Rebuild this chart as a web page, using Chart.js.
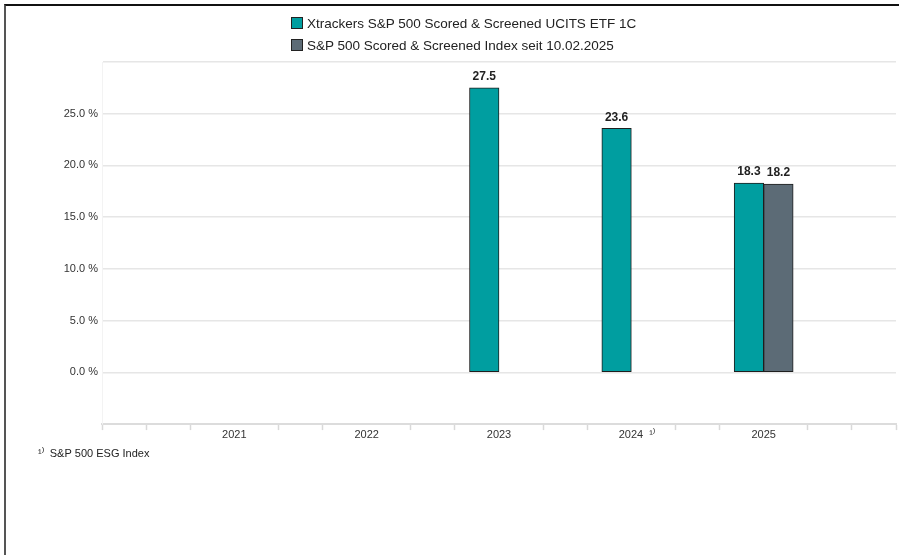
<!DOCTYPE html>
<html><head><meta charset="utf-8">
<script src="https://cdn.jsdelivr.net/npm/chart.js@4.4.1/dist/chart.umd.min.js"></script>
<style>
html,body{margin:0;padding:0;background:#fff;}
#wrap{position:relative;width:899px;height:555px;overflow:hidden;font-family:"Liberation Sans",Arial,sans-serif;}
#c{position:absolute;left:0;top:0;}
#frame{position:absolute;left:4px;top:4px;right:-10px;bottom:-10px;border-top:2px solid #111;border-left:2px solid #555;pointer-events:none;}
#legend{position:absolute;left:291px;top:12px;font-size:13.5px;color:#222;}
.li{display:flex;align-items:center;height:22px;white-space:nowrap;}
.sw{width:10px;height:10px;border:1px solid #222;margin-right:4px;box-sizing:content-box;}
</style></head>
<body><div id="wrap"><canvas id="c" width="899" height="555"></canvas><div id="legend"></div><div id="frame"></div></div>
<script>
// ---- data ----
const years = ['2021', '2022', '2023', '2024', '2025'];
const fundReturns = [null, null, 27.5, 23.6, 18.3];
const indexReturns = [null, null, null, null, 18.2];
const yearFootnotes = ['', '', '', '¹⁾', ''];
const fundLabel = 'Xtrackers S&P 500 Scored & Screened UCITS ETF 1C';
const indexLabel = 'S&P 500 Scored & Screened Index seit 10.02.2025';
const footnoteText = '¹⁾  S&P 500 ESG Index';
const yTickValues = [0, 5, 10, 15, 20, 25];
const yMin = -5, yMax = 30, yStep = 5;

// ---- build slots: axis divided into thirds of a year, years on every third slot ----
const SUB = 3;
const nSlots = (years.length + 1) * SUB + 1;
const slotLabels = new Array(nSlots).fill('');
const fundSlots = new Array(nSlots).fill(null);
const indexSlots = new Array(nSlots).fill(null);
years.forEach((y, i) => {
  const s = (i + 1) * SUB;
  slotLabels[s] = yearFootnotes[i] ? '\u2002\u2002' + y + '  ' + yearFootnotes[i] : y;
  fundSlots[s] = fundReturns[i];
  indexSlots[s] = indexReturns[i];
});

const FONT = '"Liberation Sans", Arial, sans-serif';
Chart.defaults.font.family = FONT;

const valueLabels = {
  id: 'valueLabels',
  afterDatasetsDraw(chart) {
    const ctx = chart.ctx;
    ctx.save();
    ctx.font = 'bold 12px ' + FONT;
    ctx.fillStyle = '#222';
    ctx.textAlign = 'center';
    ctx.textBaseline = 'bottom';
    chart.data.datasets.forEach((ds, di) => {
      const meta = chart.getDatasetMeta(di);
      meta.data.forEach((el, i) => {
        const v = ds.data[i];
        if (v == null) return;
        ctx.fillText(v.toFixed(1), el.x, el.y - 5);
      });
    });
    ctx.restore();
  }
};

const chart = new Chart(document.getElementById('c'), {
  type: 'bar',
  data: {
    labels: slotLabels,
    datasets: [
      { label: fundLabel, data: fundSlots, backgroundColor: '#009EA0', borderColor: '#1e1e1e', borderWidth: 1, borderSkipped: false },
      { label: indexLabel, data: indexSlots, backgroundColor: '#5C6B76', borderColor: '#1e1e1e', borderWidth: 1, borderSkipped: false }
    ]
  },
  options: {
    responsive: false,
    animation: false,
    barThickness: 29.5,
    layout: { padding: { left: 38, right: 3, top: 62, bottom: 94 } },
    plugins: {
      legend: { display: false },
      tooltip: { enabled: false },
      title: {
        display: true, position: 'bottom', align: 'start', text: footnoteText,
        color: '#222', font: { size: 11, weight: 'normal' }, padding: { top: 8.5, bottom: 0 }
      }
    },
    scales: {
      x: {
        type: 'category',
        offset: false,
        grid: {
          offset: false, drawOnChartArea: false, drawTicks: true, tickLength: 6, tickWidth: 1.5,
          tickColor: (c) => (slotLabels[c.index] ? 'rgba(0,0,0,0)' : '#d9d9d9')
        },
        border: { display: true, color: '#dcdcdc', width: 2 },
        ticks: { autoSkip: false, maxRotation: 0, minRotation: 0, padding: -2, color: '#333', font: { size: 11 } }
      },
      y: {
        min: yMin, max: yMax,
        afterFit: (s) => { s.width = 64; },
        grid: {
          drawTicks: false,
          color: (c) => (c.tick && c.tick.value === yMin ? 'rgba(0,0,0,0)' : '#e6e6e6'),
          lineWidth: 1.5
        },
        border: { display: true, color: '#f3f3f3', width: 1 },
        ticks: {
          stepSize: yStep, padding: 4, color: '#333', font: { size: 11 },
          callback: (v) => (yTickValues.includes(v) ? v.toFixed(1) + ' %' : '')
        }
      }
    }
  },
  plugins: [valueLabels]
});

// HTML legend built from the chart's datasets
const legendEl = document.getElementById('legend');
chart.data.datasets.forEach((ds) => {
  const row = document.createElement('div');
  row.className = 'li';
  const sw = document.createElement('span');
  sw.className = 'sw';
  sw.style.background = ds.backgroundColor;
  const tx = document.createElement('span');
  tx.textContent = ds.label;
  row.appendChild(sw); row.appendChild(tx);
  legendEl.appendChild(row);
});
</script>
</body></html>
